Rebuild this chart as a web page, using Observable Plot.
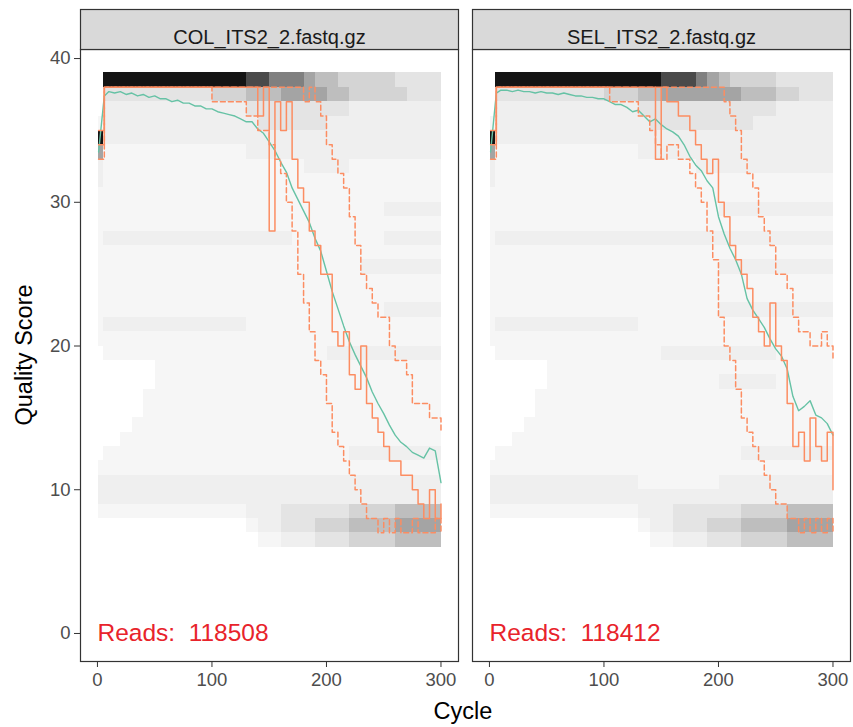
<!DOCTYPE html>
<html><head><meta charset="utf-8">
<script src="https://cdn.jsdelivr.net/npm/d3@7"></script>
<script src="https://cdn.jsdelivr.net/npm/@observablehq/plot@0.6"></script>
<style>body{margin:0;background:#fff;} #chart svg{display:block}</style>
</head><body><div id="chart"></div>
<script>
const files = ["COL_ITS2_2.fastq.gz", "SEL_ITS2_2.fastq.gz"];
const reads = [118508, 118412];
const xTicks = [0, 100, 200, 300];
const yTicks = [0, 10, 20, 30, 40];

const cycles = [1,6,10,15,20,25,30,35,40,45,50,55,60,65,70,75,80,85,90,95,100,105,110,115,120,125,130,135,140,145,150,155,160,165,170,175,180,185,190,195,200,205,210,215,220,225,230,235,240,245,250,255,260,265,270,275,280,285,290,295,300];

const colMean = [33.5,37.4,37.7,37.6,37.7,37.5,37.6,37.4,37.5,37.3,37.4,37.2,37.2,37.0,37.1,36.9,36.9,36.7,36.7,36.5,36.5,36.3,36.2,36.1,36.0,35.8,35.6,35.6,35.1,34.8,34.2,33.6,32.8,32.1,31.0,30.2,29.4,28.6,27.5,26.6,25.2,23.8,22.6,21.4,20.3,19.4,18.6,17.8,16.8,16.0,15.3,14.5,13.8,13.3,13.0,12.6,12.4,12.2,12.9,12.7,10.5];
const colMedian = [34,38,38,38,38,38,38,38,38,38,38,38,38,38,38,38,38,38,38,38,38,38,38,38,38,38,38,38,36,38,28,37,35,37,33,31,30,28,27,25,25,21,20,21,18,17,20,16,15,14,13,12,12,11,11,10,9,8,10,8,9];
const colQ25 = [33,38,38,38,38,38,38,38,38,38,38,38,38,38,38,38,38,38,38,38,37,37,37,37,37,37,36,36,35,35,34,33,32,30,28,25,23,21,19,18,16,14,13,12,11,10,9,8,8,7,8,7,8,7,7,8,7,7,7,8,7];
const colQ75 = [35,38,38,38,38,38,38,38,38,38,38,38,38,38,38,38,38,38,38,38,38,38,38,38,38,38,38,38,38,38,38,38,38,38,38,38,37,38,37,36,34,33,32,31,29,27,25,24,23,22,22,20,19,19,18,16,16,16,15,15,14];

const selMean = [33.5,37.6,37.8,37.8,37.7,37.8,37.7,37.7,37.6,37.7,37.6,37.6,37.5,37.6,37.5,37.4,37.4,37.3,37.3,37.2,37.2,37.0,36.8,36.8,36.6,36.3,36.4,36.0,35.6,35.8,35.4,35.1,34.9,34.6,34.0,33.2,32.6,32.2,31.5,31.0,29.0,27.8,26.8,26.0,25.0,23.3,22.5,21.9,21.3,20.5,19.8,19.3,18.4,16.5,15.5,15.8,16.2,15.2,15.0,14.6,13.8];
const selMedian = [34,38,38,38,38,38,38,38,38,38,38,38,38,38,38,38,38,38,38,38,38,38,38,38,38,38,38,38,38,33,38,37,37,36,36,35,34,33,32,33,30,29,27,26,25,24,22,21,20,23,20,19,16,13,14,12,15,13,12,14,10];
const selQ25 = [33,38,38,38,38,38,38,38,38,38,38,38,38,38,38,38,38,38,38,38,38,37,37,37,37,37,36,36,35,34,33,34,34,33,33,32,31,30,28,26,22,20,19,17,15,14,13,12,11,10,9,9,8,8,7,8,7,8,7,8,7];
const selQ75 = [35,38,38,38,38,38,38,38,38,38,38,38,38,38,38,38,38,38,38,38,38,38,38,38,38,38,38,38,38,38,38,38,38,38,38,38,38,38,38,38,38,37,36,35,33,32,31,29,28,27,25,25,24,22,21,21,20,20,21,20,19];

// heat map of score counts: one row per score, one digit (0 = none .. 9 = most reads) per cycle bin
const heatCycleEdges = [0.5,5.5,10.5,20.5,30.5,40.5,50.5,60.5,70.5,80.5,90.5,100.5,110.5,120.5,130.5,140.5,150.5,160.5,170.5,180.5,190.5,200.5,210.5,220.5,230.5,240.5,250.5,260.5,270.5,280.5,290.5,300.5];
const heatScores = [38.5,37.5,36.5,35.5,34.5,33.5,32.5,31.5,30.5,29.5,28.5,27.5,26.5,25.5,24.5,23.5,22.5,21.5,20.5,19.5,18.5,17.5,16.5,15.5,14.5,13.5,12.5,11.5,10.5,9.5,8.5,7.5,6.5];
const colHeat = [
"0 9999999999999 8877765 5444443333",
"0 3333333333444 5556666 5544444333",
"0 2222222222222 3333333 3322222222",
"1 2222222222222 2333333 2222222222",
"9 2222222222222 2222222 2222222222",
"6 1111111111111 2222222 2222222222",
"2 1111111111111 1111122 2211111111",
"2 1111111111111 1111111 1111111111",
"1 1111111111111 1111111 1111111111",
"1 1111111111111 1111111 1111122222",
"1 1111111111111 1111111 1111111111",
"1 2222222222222 2222111 1111122222",
"1 1111111111111 1111111 1111111111",
"1 1111111111111 1111111 1112222222",
"1 1111111111111 1111111 1111111111",
"1 1111111111111 1111111 1111111111",
"1 1111111111111 1111111 1111122222",
"1 2222222222222 1111111 1111111111",
"1 1111111111111 1111111 1111111111",
"0 1111111111111 1111111 2222222222",
"0 0000011111111 1111111 1111111111",
"0 0000011111111 1111111 1111111111",
"0 0000111111111 1111111 1111111111",
"0 0000111111111 1111111 1111111111",
"0 0001111111111 1111111 1111111111",
"0 0011111111111 1111111 1111111111",
"0 1111111111111 1111111 1122222222",
"1 1111111111111 1111111 1111111111",
"2 2222222222222 2222222 2222222222",
"2 2222222222222 2222222 2222222222",
"1 1111111111111 2223333 3344445555",
"0 0000000000000 1223334 4455556666",
"0 0000000000000 0112223 3344445555"
];
const selHeat = [
"0 9999999999999 9988876 5444433333",
"0 3333333333444 5566666 6655544333",
"0 2222222222222 3333333 3333322222",
"1 2222222222222 2333333 3332222222",
"9 2222222222222 2222222 2222222222",
"6 1111111111111 2222222 2222222222",
"2 1111111111111 1111122 2222222222",
"2 1111111111111 1111111 1111111111",
"1 1111111111111 1111111 1111111111",
"1 1111111111111 1111111 2222222222",
"1 1111111111111 1111111 1111111111",
"1 2222222222222 2222222 2222222222",
"1 1111111111111 1111111 1111111111",
"1 1111111111111 1111111 2222222222",
"1 1111111111111 1111111 1111111111",
"1 1111111111111 1111111 1111111111",
"1 1111111111111 1111111 2222222222",
"1 2222222222222 1111111 1111111111",
"1 1111111111111 1111111 1111111111",
"0 1111111111111 1122222 2222211111",
"0 0000011111111 1111111 1111111111",
"0 0000011111111 1111111 2222211111",
"0 0000111111111 1111111 1111111111",
"0 0000111111111 1111111 1111111111",
"0 0001111111111 1111111 1111111111",
"0 0011111111111 1111111 1111111111",
"0 1111111111111 1111111 1122222222",
"1 1111111111111 1111111 1111111111",
"2 2222222222222 1111111 2222222222",
"2 2222222222222 2222222 2222222222",
"1 1111111111111 2223333 3344445555",
"0 0000000000000 1223334 4455556666",
"0 0000000000000 0112223 3344445555"
];
const grays = ["none","#f6f6f6","#efefef","#e4e4e4","#d4d4d4","#bebebe","#a4a4a4","#808080","#4a4a4a","#141414"];

const heatTiles = [];
[colHeat, selHeat].forEach((rowsArr, fi) => {
  rowsArr.forEach((str, ri) => {
    const digits = str.replace(/\s/g, "");
    for (let b = 0; b < heatCycleEdges.length - 1 && b < digits.length; b++) {
      const lv = +digits[b];
      if (lv > 0) heatTiles.push({file: files[fi], c0: heatCycleEdges[b], c1: heatCycleEdges[b + 1], score: heatScores[ri], level: lv});
    }
  });
});

const statSeries = [
  [files[0], "mean", colMean], [files[0], "median", colMedian], [files[0], "q25", colQ25], [files[0], "q75", colQ75],
  [files[1], "mean", selMean], [files[1], "median", selMedian], [files[1], "q25", selQ25], [files[1], "q75", selQ75]
];
const lineRows = statSeries.flatMap(([file, stat, vals]) => vals.map((v, i) => ({file, stat, cycle: cycles[i], score: v})));
const readRows = files.map((f, i) => ({file: f, reads: reads[i]}));

const chart = Plot.plot({
  width: 853, height: 727,
  marginTop: 49, marginBottom: 66, marginLeft: 79, marginRight: 2,
  style: {fontFamily: "Liberation Sans, Arial, sans-serif", background: "#fff", overflow: "visible"},
  fx: {domain: files, paddingInner: 0.0356, paddingOuter: 0, axis: null, label: null},
  x: {domain: [-14.8, 315.3]},
  y: {domain: [-1.95, 40.63]},
  color: {type: "identity"},
  marks: [
    Plot.rect(heatTiles, {fx: "file", x1: "c0", x2: "c1", y1: d => d.score - 0.5, y2: d => d.score + 0.5, fill: d => grays[d.level], shapeRendering: "crispEdges"}),
    Plot.line(lineRows.filter(d => d.stat === "mean"), {fx: "file", x: "cycle", y: "score", stroke: "#66C2A5", strokeWidth: 1.4}),
    Plot.line(lineRows.filter(d => d.stat === "median"), {fx: "file", x: "cycle", y: "score", curve: "step-after", stroke: "#FC8D62", strokeWidth: 1.5}),
    Plot.line(lineRows.filter(d => d.stat === "q25" || d.stat === "q75"), {fx: "file", x: "cycle", y: "score", z: "stat", curve: "step-after", stroke: "#FC8D62", strokeWidth: 1.5, strokeDasharray: "5,3"}),
    Plot.text(readRows, {fx: "file", x: () => 0, y: () => 0, text: d => "Reads:\u00a0\u00a0" + d.reads, textAnchor: "start", fontSize: 24.5, fill: "#e8232b"}),
    Plot.frame({stroke: "#333", strokeWidth: 1.2}),
    Plot.frame({fill: "#d9d9d9", stroke: "#333", strokeWidth: 1.2, insetTop: -40, insetBottom: 612}),
    Plot.text(files, {fx: d => d, text: d => d, frameAnchor: "top", dy: -20, fontSize: 20, fill: "#1a1a1a"}),
    Plot.axisY({ticks: yTicks, tickSize: 6, tickPadding: 4, fontSize: 18.5, fill: "#4d4d4d", stroke: "#333", label: null}),
    Plot.axisX({ticks: xTicks, tickSize: 6, tickPadding: 5, fontSize: 18.5, fill: "#4d4d4d", stroke: "#333", label: null})
  ]
});
document.getElementById("chart").appendChild(chart);
const svg = d3.select(chart.tagName.toLowerCase() === "svg" ? chart : chart.querySelector("svg"));
svg.append("text").attr("x", 463).attr("y", 719).attr("text-anchor", "middle").attr("font-size", 23.5).attr("fill", "#000").text("Cycle");
svg.append("text").attr("transform", "translate(32,355) rotate(-90)").attr("text-anchor", "middle").attr("font-size", 23.5).attr("fill", "#000").text("Quality Score");
</script>
</body></html>
